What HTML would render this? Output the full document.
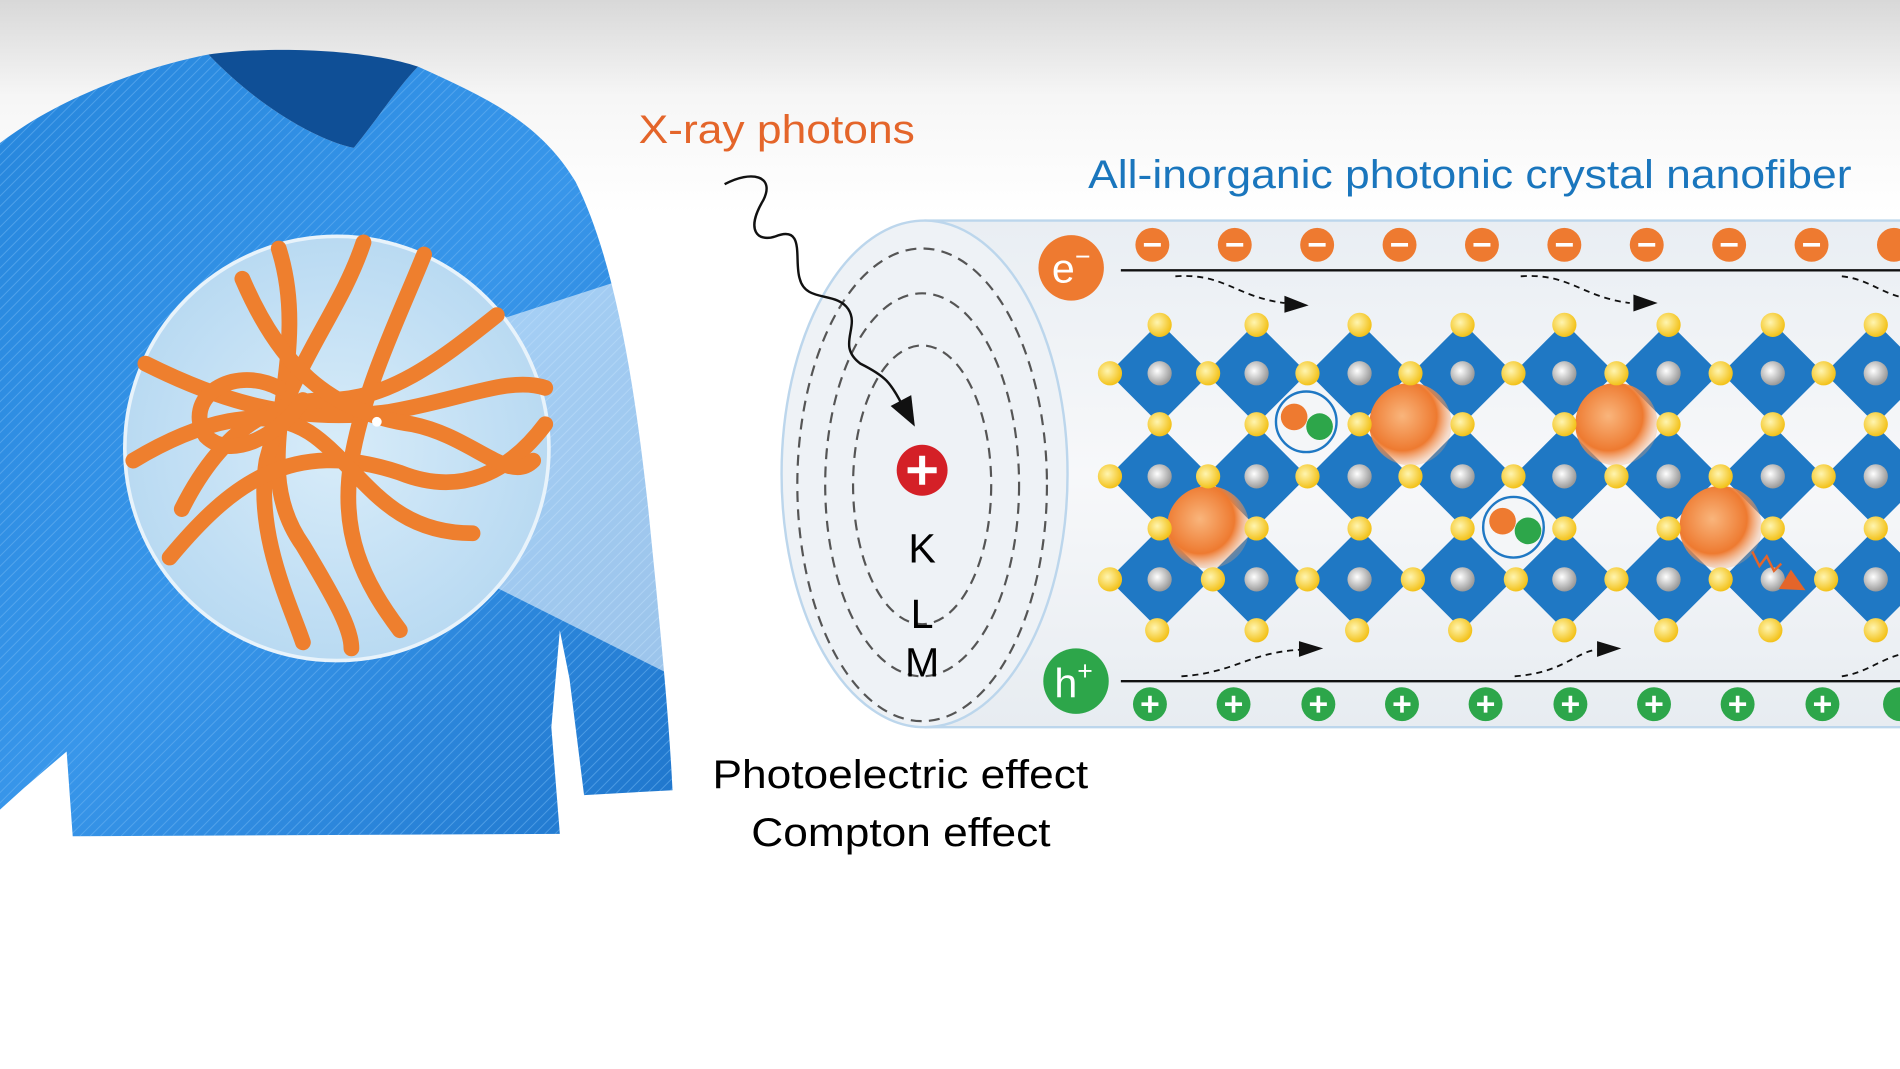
<!DOCTYPE html>
<html><head><meta charset="utf-8"><style>
html,body{margin:0;padding:0;background:#fff;width:1900px;height:1069px;overflow:hidden}
svg{display:block}
text{font-family:"Liberation Sans",sans-serif}
</style></head><body>
<svg width="1900" height="1069" viewBox="0 0 1568 882" preserveAspectRatio="none" xmlns="http://www.w3.org/2000/svg">
<defs>
<linearGradient id="bg" x1="0" y1="0" x2="0" y2="1"><stop offset="0" stop-color="#d8d8d8"/><stop offset="0.09" stop-color="#f6f6f6"/><stop offset="0.2" stop-color="#fff"/></linearGradient>
<linearGradient id="shirt" x1="0" y1="0" x2="1" y2="1"><stop offset="0" stop-color="#2686dc"/><stop offset="0.5" stop-color="#3896ea"/><stop offset="1" stop-color="#1f76cc"/></linearGradient>
<pattern id="knit" width="6" height="6" patternUnits="userSpaceOnUse" patternTransform="rotate(45)"><rect width="6" height="6" fill="none"/><line x1="0" y1="0" x2="0" y2="6" stroke="#6db5f3" stroke-width="1.6" opacity="0.55"/></pattern>
<linearGradient id="fiber" x1="0" y1="0" x2="0" y2="1"><stop offset="0" stop-color="#e9eef3"/><stop offset="0.5" stop-color="#f7f8fa"/><stop offset="1" stop-color="#e7ecf1"/></linearGradient>
<radialGradient id="orb" cx="0.4" cy="0.4" r="0.6"><stop offset="0" stop-color="#f9b57c"/><stop offset="0.7" stop-color="#ee7a30"/><stop offset="1" stop-color="#f5a36a" stop-opacity="0.3"/></radialGradient>
<radialGradient id="gray" cx="0.4" cy="0.4" r="0.6"><stop offset="0" stop-color="#fff"/><stop offset="1" stop-color="#9a9a9a"/></radialGradient>
<radialGradient id="yel" cx="0.4" cy="0.4" r="0.6"><stop offset="0" stop-color="#fff5b0"/><stop offset="1" stop-color="#f3c21a"/></radialGradient>
<radialGradient id="lens" cx="0.5" cy="0.5" r="0.5"><stop offset="0" stop-color="#d8ecf9"/><stop offset="1" stop-color="#b9daf2"/></radialGradient>
</defs>
<rect width="1568" height="882" fill="url(#bg)"/>
<path d="M0,118 C50,80 120,55 172,45 C220,95 270,118 292,122 C310,100 330,70 345,55 C400,80 445,100 475,150 C510,220 525,330 535,420 C545,520 552,590 555,652 L482,656 L470,560 L462,520 L455,600 L462,688 L60,690 L55,620 L20,650 L0,668 Z" fill="url(#shirt)"/>
<path d="M0,118 C50,80 120,55 172,45 C220,95 270,118 292,122 C310,100 330,70 345,55 C400,80 445,100 475,150 C510,220 525,330 535,420 C545,520 552,590 555,652 L482,656 L470,560 L462,520 L455,600 L462,688 L60,690 L55,620 L20,650 L0,668 Z" fill="url(#knit)"/>
<path d="M172,45 C220,95 270,118 292,122 C310,100 330,70 345,55 C300,40 220,38 172,45Z" fill="#0f4f96"/>
<polygon points="300,300 640,190 770,182 770,600 640,600 300,430" fill="#ffffff" opacity="0.55"/>
<circle cx="278" cy="370" r="175" fill="url(#lens)" stroke="#e8f3fb" stroke-width="3"/>
<g fill="none" stroke="#ee7f2e" stroke-width="13" stroke-linecap="round">
<path d="M230,205 C260,300 200,380 250,450 C280,500 290,520 290,535"/>
<path d="M300,200 C280,260 240,300 220,380 C210,440 240,500 250,530"/>
<path d="M120,300 C180,330 240,350 320,340 C380,330 420,310 450,320"/>
<path d="M140,460 C190,400 240,360 330,390 C380,410 420,390 450,350"/>
<path d="M350,210 C330,260 300,320 290,380 C280,440 300,480 330,520"/>
<path d="M410,260 C360,300 320,330 270,330 C220,330 180,360 150,420"/>
<path d="M110,380 C160,350 220,330 260,360 C300,390 320,440 390,440"/>
<path d="M200,230 C230,300 270,340 340,350 C390,360 420,400 440,380"/>
<path d="M250,330 C230,360 190,380 170,360 C150,330 190,300 230,320"/>
</g>
<circle cx="311" cy="348" r="4" fill="#fff"/>
<rect x="763" y="182" width="805" height="418" fill="url(#fiber)"/>
<line x1="763" y1="182" x2="1568" y2="182" stroke="#bcd6ec" stroke-width="2"/>
<line x1="763" y1="600" x2="1568" y2="600" stroke="#bcd6ec" stroke-width="2"/>
<ellipse cx="763" cy="391" rx="118" ry="209" fill="#eef2f6" stroke="#bcd6ec" stroke-width="2"/>
<g fill="none" stroke="#555" stroke-width="1.8" stroke-dasharray="9,6">
<ellipse cx="761" cy="400" rx="57" ry="115"/>
<ellipse cx="761" cy="400" rx="80" ry="158"/>
<ellipse cx="761" cy="400" rx="103" ry="195"/>
</g>
<circle cx="761" cy="388" r="21" fill="#d42027"/>
<path d="M749,388 H773 M761,376 V400" stroke="#fff" stroke-width="5"/>
<text x="761" y="464" font-size="34" text-anchor="middle">K</text>
<text x="761" y="518" font-size="34" text-anchor="middle">L</text>
<text x="761" y="558" font-size="34" text-anchor="middle">M</text>
<path d="M598,152 C620,140 640,145 630,165 C615,190 625,200 640,195 C665,185 655,215 660,230 C665,250 690,240 700,255 C710,270 690,285 710,300 C730,310 735,315 745,335" fill="none" stroke="#111" stroke-width="2"/>
<polygon points="755,352 735,335 752,326" fill="#111"/>
<text x="527" y="118" font-size="33" fill="#e4652a" textLength="228" lengthAdjust="spacingAndGlyphs">X-ray photons</text>
<text x="898" y="155" font-size="33" fill="#1a76bd" textLength="630" lengthAdjust="spacingAndGlyphs">All-inorganic photonic crystal nanofiber</text>
<line x1="925" y1="223" x2="1568" y2="223" stroke="#111" stroke-width="2"/>
<line x1="925" y1="562" x2="1568" y2="562" stroke="#111" stroke-width="2"/>
<g fill="none" stroke="#111" stroke-width="1.5" stroke-dasharray="5,4">
<path d="M970,228 C1010,225 1020,245 1060,250"/><path d="M1255,228 C1295,225 1305,245 1345,250"/><path d="M1520,228 C1540,230 1550,240 1568,245"/>
<path d="M975,558 C1020,555 1030,538 1075,536"/><path d="M1250,558 C1290,555 1300,538 1318,536"/><path d="M1520,558 C1540,555 1550,545 1568,540"/>
</g>
<g fill="#111"><polygon points="1080,252 1060,244 1060,258"/><polygon points="1368,250 1348,243 1348,257"/><polygon points="1092,535 1072,529 1072,542"/><polygon points="1338,535 1318,529 1318,542"/></g>
<circle cx="884" cy="221" r="27" fill="#ee7a30"/><text x="884" y="233" font-size="34" fill="#fff" text-anchor="middle">e<tspan font-size="22" dy="-14">−</tspan></text>
<circle cx="888" cy="562" r="27" fill="#2da64a"/><text x="886" y="575" font-size="34" fill="#fff" text-anchor="middle">h<tspan font-size="22" dy="-14">+</tspan></text>
<g fill="#ee7a30">
<circle cx="951" cy="202" r="14"/><circle cx="1019" cy="202" r="14"/><circle cx="1087" cy="202" r="14"/><circle cx="1155" cy="202" r="14"/><circle cx="1223" cy="202" r="14"/><circle cx="1291" cy="202" r="14"/><circle cx="1359" cy="202" r="14"/><circle cx="1427" cy="202" r="14"/><circle cx="1495" cy="202" r="14"/><circle cx="1563" cy="202" r="14"/>
</g>
<g stroke="#fff" stroke-width="3">
<path d="M944,202h14M1012,202h14M1080,202h14M1148,202h14M1216,202h14M1284,202h14M1352,202h14M1420,202h14M1488,202h14"/>
</g>
<g fill="#2da64a">
<circle cx="949" cy="581" r="14"/><circle cx="1018" cy="581" r="14"/><circle cx="1088" cy="581" r="14"/><circle cx="1157" cy="581" r="14"/><circle cx="1226" cy="581" r="14"/><circle cx="1296" cy="581" r="14"/><circle cx="1365" cy="581" r="14"/><circle cx="1434" cy="581" r="14"/><circle cx="1504" cy="581" r="14"/><circle cx="1568" cy="581" r="14"/>
</g>
<g stroke="#fff" stroke-width="3">
<path d="M942,581h14M949,574v14M1011,581h14M1018,574v14M1081,581h14M1088,574v14M1150,581h14M1157,574v14M1219,581h14M1226,574v14M1289,581h14M1296,574v14M1358,581h14M1365,574v14M1427,581h14M1434,574v14M1497,581h14M1504,574v14"/>
</g>
<g fill="#1f78c4">
<polygon points="957,266 999,308 957,350 915,308"/><polygon points="1037,266 1079,308 1037,350 995,308"/><polygon points="1122,266 1164,308 1122,350 1080,308"/><polygon points="1207,266 1249,308 1207,350 1165,308"/><polygon points="1291,266 1333,308 1291,350 1249,308"/><polygon points="1377,266 1419,308 1377,350 1335,308"/><polygon points="1463,266 1505,308 1463,350 1421,308"/><polygon points="1548,266 1590,308 1548,350 1506,308"/>
<polygon points="957,351 999,393 957,435 915,393"/><polygon points="1037,351 1079,393 1037,435 995,393"/><polygon points="1122,351 1164,393 1122,435 1080,393"/><polygon points="1207,351 1249,393 1207,435 1165,393"/><polygon points="1291,351 1333,393 1291,435 1249,393"/><polygon points="1377,351 1419,393 1377,435 1335,393"/><polygon points="1463,351 1505,393 1463,435 1421,393"/><polygon points="1548,351 1590,393 1548,435 1506,393"/>
<polygon points="957,436 999,478 957,520 915,478"/><polygon points="1037,436 1079,478 1037,520 995,478"/><polygon points="1122,436 1164,478 1122,520 1080,478"/><polygon points="1207,436 1249,478 1207,520 1165,478"/><polygon points="1291,436 1333,478 1291,520 1249,478"/><polygon points="1377,436 1419,478 1377,520 1335,478"/><polygon points="1463,436 1505,478 1463,520 1421,478"/><polygon points="1548,436 1590,478 1548,520 1506,478"/>
</g>
<g fill="url(#gray)">
<circle cx="957" cy="308" r="10"/><circle cx="1037" cy="308" r="10"/><circle cx="1122" cy="308" r="10"/><circle cx="1207" cy="308" r="10"/><circle cx="1291" cy="308" r="10"/><circle cx="1377" cy="308" r="10"/><circle cx="1463" cy="308" r="10"/><circle cx="1548" cy="308" r="10"/>
<circle cx="957" cy="393" r="10"/><circle cx="1037" cy="393" r="10"/><circle cx="1122" cy="393" r="10"/><circle cx="1207" cy="393" r="10"/><circle cx="1291" cy="393" r="10"/><circle cx="1377" cy="393" r="10"/><circle cx="1463" cy="393" r="10"/><circle cx="1548" cy="393" r="10"/>
<circle cx="957" cy="478" r="10"/><circle cx="1037" cy="478" r="10"/><circle cx="1122" cy="478" r="10"/><circle cx="1207" cy="478" r="10"/><circle cx="1291" cy="478" r="10"/><circle cx="1377" cy="478" r="10"/><circle cx="1463" cy="478" r="10"/><circle cx="1548" cy="478" r="10"/>
</g>
<g fill="url(#orb)">
<circle cx="1164" cy="350" r="34"/><circle cx="1334" cy="350" r="34"/><circle cx="997" cy="435" r="34"/><circle cx="1420" cy="435" r="34"/>
</g>
<g fill="url(#yel)">
<circle cx="957" cy="268" r="10"/><circle cx="1037" cy="268" r="10"/><circle cx="1122" cy="268" r="10"/><circle cx="1207" cy="268" r="10"/><circle cx="1291" cy="268" r="10"/><circle cx="1377" cy="268" r="10"/><circle cx="1463" cy="268" r="10"/><circle cx="1548" cy="268" r="10"/>
<circle cx="957" cy="350" r="10"/><circle cx="1037" cy="350" r="10"/><circle cx="1122" cy="350" r="10"/><circle cx="1207" cy="350" r="10"/><circle cx="1291" cy="350" r="10"/><circle cx="1377" cy="350" r="10"/><circle cx="1463" cy="350" r="10"/><circle cx="1548" cy="350" r="10"/>
<circle cx="957" cy="436" r="10"/><circle cx="1037" cy="436" r="10"/><circle cx="1122" cy="436" r="10"/><circle cx="1207" cy="436" r="10"/><circle cx="1291" cy="436" r="10"/><circle cx="1377" cy="436" r="10"/><circle cx="1463" cy="436" r="10"/><circle cx="1548" cy="436" r="10"/>
<circle cx="955" cy="520" r="10"/><circle cx="1037" cy="520" r="10"/><circle cx="1120" cy="520" r="10"/><circle cx="1205" cy="520" r="10"/><circle cx="1291" cy="520" r="10"/><circle cx="1375" cy="520" r="10"/><circle cx="1461" cy="520" r="10"/><circle cx="1548" cy="520" r="10"/>
<circle cx="916" cy="308" r="10"/><circle cx="997" cy="308" r="10"/><circle cx="1079" cy="308" r="10"/><circle cx="1164" cy="308" r="10"/><circle cx="1249" cy="308" r="10"/><circle cx="1334" cy="308" r="10"/><circle cx="1420" cy="308" r="10"/><circle cx="1505" cy="308" r="10"/>
<circle cx="916" cy="393" r="10"/><circle cx="997" cy="393" r="10"/><circle cx="1079" cy="393" r="10"/><circle cx="1164" cy="393" r="10"/><circle cx="1249" cy="393" r="10"/><circle cx="1334" cy="393" r="10"/><circle cx="1420" cy="393" r="10"/><circle cx="1505" cy="393" r="10"/>
<circle cx="916" cy="478" r="10"/><circle cx="1001" cy="478" r="10"/><circle cx="1079" cy="478" r="10"/><circle cx="1166" cy="478" r="10"/><circle cx="1251" cy="478" r="10"/><circle cx="1334" cy="478" r="10"/><circle cx="1420" cy="478" r="10"/><circle cx="1507" cy="478" r="10"/>
</g>
<circle cx="1078" cy="348" r="25" fill="#f4f6f8" stroke="#1f78c4" stroke-width="2"/>
<circle cx="1068" cy="344" r="11" fill="#ee7a30"/><circle cx="1089" cy="352" r="11" fill="#2da64a"/>
<circle cx="1249" cy="435" r="25" fill="#f4f6f8" stroke="#1f78c4" stroke-width="2"/>
<circle cx="1240" cy="430" r="11" fill="#ee7a30"/><circle cx="1261" cy="438" r="11" fill="#2da64a"/>
<path d="M1446,455 l6,12 l6,-8 l6,12 l6,-6" fill="none" stroke="#e4652a" stroke-width="2"/>
<polygon points="1490,487 1468,486 1478,470" fill="#e4652a"/>
<text x="588" y="650" font-size="33" textLength="310" lengthAdjust="spacingAndGlyphs">Photoelectric effect</text>
<text x="620" y="698" font-size="33" textLength="247" lengthAdjust="spacingAndGlyphs">Compton effect</text>
</svg>
</body></html>
